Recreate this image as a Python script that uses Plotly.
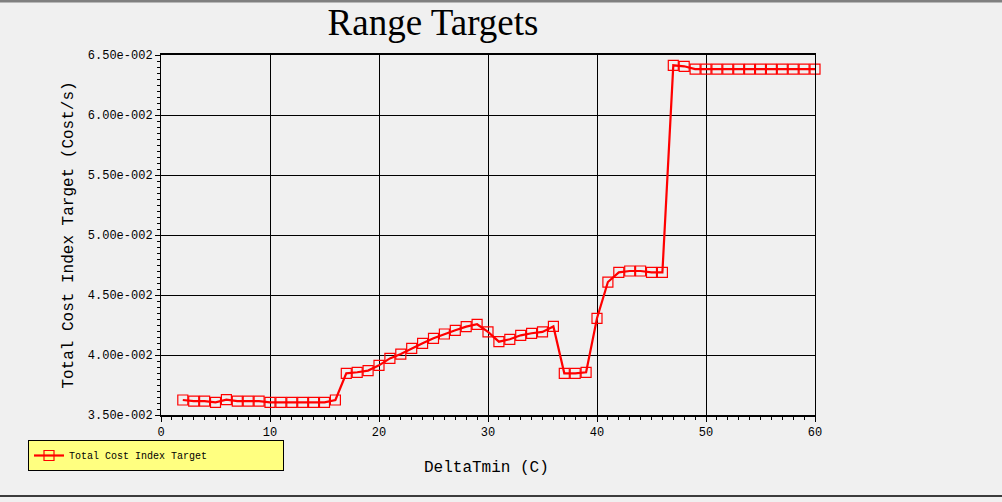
import plotly.graph_objects as go

# ---- data ----
delta_tmin = list(range(2, 61))
total_cost_index = [
    0.03625, 0.03615, 0.03615, 0.03606, 0.03628, 0.03615, 0.03615, 0.03615,   # 2-9
    0.03606, 0.03606, 0.03606, 0.03606, 0.03606, 0.03606, 0.03625,            # 10-16
    0.03847, 0.03856, 0.03870, 0.03914, 0.03972, 0.04008, 0.04056, 0.04097,   # 17-24
    0.04139, 0.04175, 0.04206, 0.04236, 0.04256, 0.04192, 0.04111, 0.04131,   # 25-32
    0.04164, 0.04181, 0.04192, 0.04238, 0.03847, 0.03847, 0.03856, 0.04306,   # 33-40
    0.04608, 0.04689, 0.04700, 0.04700, 0.04689, 0.04689, 0.06414, 0.06406,   # 41-48
    0.06383, 0.06383, 0.06383, 0.06383, 0.06383, 0.06383, 0.06383, 0.06383,   # 49-56
    0.06383, 0.06383, 0.06383, 0.06383,                                       # 57-60
]
series_name = "Total Cost Index Target"
x_title = "DeltaTmin (C)"
y_title = "Total Cost Index Target (Cost/s)"
y_tick_vals = [0.035, 0.040, 0.045, 0.050, 0.055, 0.060, 0.065]
y_tick_text = ["3.50e-002", "4.00e-002", "4.50e-002", "5.00e-002",
               "5.50e-002", "6.00e-002", "6.50e-002"]
x_tick_vals = [0, 10, 20, 30, 40, 50, 60]
x_tick_text = ["0", "10", "20", "30", "40", "50", "60"]

W, H = 1002, 502
L, R, T, B = 161, 815, 55, 415
pw, ph = R - L, B - T

mono = "Liberation Mono"
fig = go.Figure()
fig.add_trace(go.Scatter(
    x=delta_tmin, y=total_cost_index, name=series_name,
    mode="lines+markers",
    line=dict(color="#ff0000", width=2.2),
    marker=dict(symbol="square-open", size=10, color="#ff0000",
                line=dict(width=1.2, color="#ff0000")),
    cliponaxis=False,
    showlegend=True,
))

fig.update_layout(
    width=W, height=H,
    margin=dict(l=L, r=W - R, t=T, b=H - B, pad=0, autoexpand=False),
    paper_bgcolor="#f0f0f0", plot_bgcolor="#f0f0f0",
    font=dict(family=mono, color="#000000", size=12),
    title=dict(text="Range Targets", x=433 / W, xref="container", xanchor="center",
               y=1 - 22 / H, yref="container", yanchor="middle",
               font=dict(family="Liberation Serif", size=37, color="#000000")),
    showlegend=True,
    legend=dict(xref="container", yref="container", x=28 / W, y=1 - 440 / H,
                xanchor="left", yanchor="top", orientation="h",
                bgcolor="#ffff80", bordercolor="#000000", borderwidth=1,
                font=dict(family=mono, size=10, color="#000000"),
                entrywidth=209, entrywidthmode="pixels", itemwidth=30, tracegroupgap=0),
    xaxis=dict(range=[0, 60], tickvals=x_tick_vals, ticktext=x_tick_text,
               showgrid=True, gridcolor="#000000", gridwidth=1,
               showline=True, linecolor="#000000", linewidth=1.5, mirror=True,
               ticks="outside", ticklen=5, tickcolor="#000000", tickwidth=1,
               minor=dict(dtick=1, ticks="outside", ticklen=3, tickcolor="#000000",
                          showgrid=False),
               zeroline=False, automargin=False,
               tickfont=dict(family=mono, size=12)),
    yaxis=dict(range=[0.035, 0.065], tickvals=y_tick_vals, ticktext=y_tick_text,
               showgrid=True, gridcolor="#000000", gridwidth=1,
               showline=True, linecolor="#000000", linewidth=1, mirror=True,
               ticks="outside", ticklen=5, tickcolor="#000000", tickwidth=1,
               minor=dict(dtick=0.0005, ticks="outside", ticklen=3, tickcolor="#000000",
                          showgrid=False),
               zeroline=False, automargin=True,
               tickfont=dict(family=mono, size=12),
               title=dict(text=y_title, standoff=10,
                          font=dict(family=mono, size=16))),
    annotations=[
        dict(text=x_title, xref="paper", yref="paper",
             x=(486 - L) / pw, y=-(468 - B) / ph, xanchor="center", yanchor="middle",
             showarrow=False, font=dict(family=mono, size=16, color="#000000")),
    ],
    shapes=[
        dict(type="rect", xref="paper", yref="paper",
             x0=-L / pw, x1=(W - L) / pw, y0=1 + (T - 2.5) / ph, y1=1 + T / ph,
             fillcolor="#808080", line=dict(width=0), layer="above"),
        dict(type="line", xref="paper", yref="paper",
             x0=-L / pw, x1=(W - L) / pw, y0=-(496 - B) / ph, y1=-(496 - B) / ph,
             line=dict(color="#000000", width=1.5), layer="above"),
    ],
)

fig.write_html("out.html", config={"displayModeBar": False},
               post_script="document.body.style.margin='0';document.body.style.overflow='hidden';")
